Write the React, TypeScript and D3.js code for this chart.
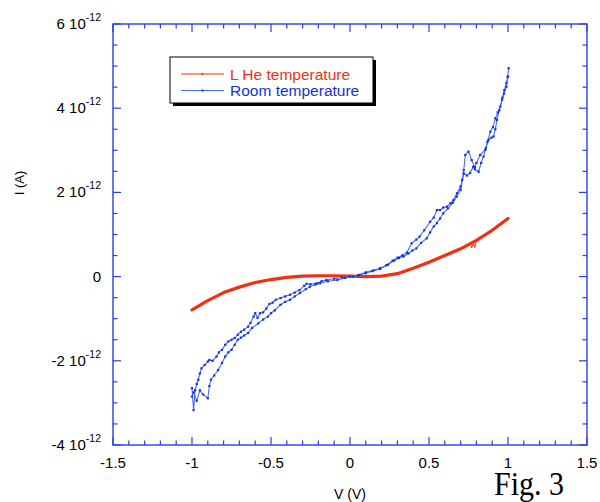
import * as d3 from "d3";

// L He temperature sweep (V, I in 1e-12 A)
const heV = [-1.0, -0.9, -0.8, -0.7, -0.6, -0.5, -0.4, -0.3, -0.2, -0.1, 0.0, 0.1, 0.2, 0.3, 0.4, 0.5, 0.6, 0.7, 0.8, 0.9, 1.0];
const heI = [-0.79, -0.57, -0.38, -0.25, -0.14, -0.07, -0.02, 0.01, 0.02, 0.02, 0.01, 0.0, 0.01, 0.07, 0.2, 0.34, 0.5, 0.66, 0.86, 1.1, 1.38];
const heGlitchV = [0.76, 0.77, 0.78, 0.79, 0.8];
const heGlitchI = [0.78, 0.68, 0.8, 0.69, 0.84];

// room temperature, two sweeps
const roomV1 = [-1.0, -0.99, -0.98, -0.97, -0.96, -0.95, -0.94, -0.92, -0.9, -0.89, -0.87, -0.845, -0.83, -0.81, -0.79, -0.77, -0.75, -0.73, -0.71, -0.69, -0.67, -0.645, -0.63, -0.61, -0.6, -0.585, -0.57, -0.55, -0.53, -0.51, -0.49, -0.47, -0.44, -0.41, -0.38, -0.35, -0.32, -0.29, -0.275, -0.25, -0.21, -0.18, -0.15, -0.1, -0.05, 0.0, 0.05, 0.1, 0.15, 0.19, 0.23, 0.27, 0.3, 0.33, 0.36, 0.39, 0.42, 0.44, 0.47, 0.507, 0.53, 0.55, 0.57, 0.59, 0.613, 0.635, 0.655, 0.677, 0.7, 0.71, 0.72, 0.73, 0.75, 0.77, 0.79, 0.8, 0.824, 0.856, 0.87, 0.888, 0.905, 0.92, 0.935, 0.951, 0.965, 0.977, 0.99, 0.998, 1.004];
const roomI1 = [-2.65, -3.17, -2.7, -2.55, -2.45, -2.3, -2.18, -2.1, -2.02, -1.98, -2.0, -1.9, -1.8, -1.74, -1.62, -1.54, -1.5, -1.46, -1.38, -1.31, -1.26, -1.19, -1.1, -0.95, -0.87, -0.98, -0.87, -0.85, -0.76, -0.65, -0.62, -0.55, -0.51, -0.47, -0.43, -0.38, -0.32, -0.22, -0.17, -0.18, -0.16, -0.11, -0.08, -0.05, -0.02, 0.0, 0.03, 0.1, 0.15, 0.2, 0.27, 0.38, 0.45, 0.5, 0.57, 0.79, 0.88, 0.95, 1.1, 1.3, 1.4, 1.58, 1.58, 1.64, 1.66, 1.74, 1.82, 1.98, 2.14, 2.3, 2.53, 2.89, 2.97, 2.77, 2.6, 2.7, 2.89, 3.01, 3.2, 3.44, 3.55, 3.76, 3.9, 4.04, 4.25, 4.43, 4.6, 4.75, 4.95];
const roomV2 = [-1.0, -0.99, -0.97, -0.95, -0.93, -0.9, -0.89, -0.88, -0.86, -0.835, -0.81, -0.79, -0.77, -0.75, -0.73, -0.71, -0.69, -0.67, -0.645, -0.62, -0.58, -0.55, -0.52, -0.5, -0.476, -0.44, -0.41, -0.38, -0.35, -0.317, -0.28, -0.254, -0.22, -0.19, -0.14, -0.08, -0.03, 0.02, 0.06, 0.1, 0.14, 0.19, 0.24, 0.28, 0.31, 0.34, 0.37, 0.395, 0.42, 0.45, 0.486, 0.507, 0.53, 0.55, 0.57, 0.59, 0.62, 0.65, 0.675, 0.7, 0.72, 0.74, 0.76, 0.78, 0.79, 0.814, 0.83, 0.845, 0.86, 0.877, 0.895, 0.909, 0.92, 0.93, 0.945, 0.962, 0.975, 0.99, 1.0];
const roomI2 = [-2.85, -2.75, -2.95, -2.7, -2.8, -2.89, -2.6, -2.45, -2.35, -2.22, -2.05, -1.9, -1.8, -1.74, -1.62, -1.5, -1.45, -1.4, -1.34, -1.22, -1.11, -1.02, -0.95, -0.87, -0.8, -0.67, -0.6, -0.55, -0.47, -0.39, -0.3, -0.24, -0.19, -0.16, -0.11, -0.08, -0.03, 0.0, 0.04, 0.08, 0.13, 0.18, 0.28, 0.38, 0.44, 0.48, 0.55, 0.62, 0.67, 0.8, 0.91, 1.05, 1.19, 1.27, 1.38, 1.5, 1.62, 1.75, 1.9, 2.06, 2.45, 2.4, 2.46, 2.61, 2.55, 2.49, 2.7, 2.85, 3.05, 3.25, 3.3, 3.33, 3.5, 3.72, 3.95, 4.2, 4.35, 4.51, 4.75];

const xMajor = [-1.5, -1, -0.5, 0, 0.5, 1, 1.5];
const xTickLabels = ["-1.5", "-1", "-0.5", "0", "0.5", "1", "1.5"];
const yMajor = [-4, -2, 0, 2, 4, 6];
const yTickLabels = ["-4", "-2", "0", "2", "4", "6"];

const BOX = { left: 113, right: 587, top: 24, bottom: 445 };
const AXIS = "#2442e6";
const RED = "#f0300e";
const BLUE_LINE = "#4a6cf0";
const BLUE_DOT = "#1232e0";
const FONT = "Liberation Sans, Arial, sans-serif";

const App = () => {
  const x = d3.scaleLinear().domain([-1.5, 1.5]).range([BOX.left, BOX.right]);
  const y = d3.scaleLinear().domain([-4, 6]).range([BOX.bottom, BOX.top]);

  const line = d3
    .line<[number, number]>()
    .x((d) => x(d[0]))
    .y((d) => y(d[1]));

  const zip = (vs: number[], is: number[]) => vs.map((v, i) => [v, is[i]] as [number, number]);
  const he = zip(heV, heI);
  const heGlitch = zip(heGlitchV, heGlitchI);
  const room1 = zip(roomV1, roomI1);
  const room2 = zip(roomV2, roomI2);

  const xMinor = d3.range(-1.5, 1.5001, 0.1).map((d) => Math.round(d * 10) / 10);
  const yMinor = d3.range(-4, 6.001, 0.5);

  const isMajorX = (v: number) => xMajor.some((m) => Math.abs(m - v) < 1e-6);
  const isMajorY = (v: number) => yMajor.some((m) => Math.abs(m - v) < 1e-6);

  return (
    <svg width={600} height={502} style={{ position: "absolute", left: 0, top: 0, background: "#fff" }}>
      {/* frame */}
      <rect x={BOX.left} y={BOX.top} width={BOX.right - BOX.left} height={BOX.bottom - BOX.top} fill="none" stroke={AXIS} strokeWidth={1.4} />

      {/* x ticks bottom & top */}
      {xMinor.map((v, i) => {
        const len = isMajorX(v) ? 8 : 4.5;
        return (
          <g key={"xt" + i} stroke={AXIS} strokeWidth={1.2}>
            <line x1={x(v)} x2={x(v)} y1={BOX.bottom} y2={BOX.bottom - len} />
            <line x1={x(v)} x2={x(v)} y1={BOX.top} y2={BOX.top + len} />
          </g>
        );
      })}
      {/* y ticks left & right */}
      {yMinor.map((v, i) => {
        const len = isMajorY(v) ? 8 : 4.5;
        return (
          <g key={"yt" + i} stroke={AXIS} strokeWidth={1.2}>
            <line x1={BOX.left} x2={BOX.left + len} y1={y(v)} y2={y(v)} />
            <line x1={BOX.right} x2={BOX.right - len} y1={y(v)} y2={y(v)} />
          </g>
        );
      })}

      {/* x tick labels */}
      {xMajor.map((v, i) => (
        <text key={"xl" + i} x={x(v)} y={468} textAnchor="middle" fontFamily={FONT} fontSize={15} fill="#000">
          {xTickLabels[i]}
        </text>
      ))}
      {/* y tick labels */}
      {yMajor.map((v, i) =>
        v === 0 ? (
          <text key={"yl" + i} x={101} y={y(v) + 5} textAnchor="end" fontFamily={FONT} fontSize={15} fill="#000">
            0
          </text>
        ) : (
          <text key={"yl" + i} x={101} y={y(v) + 5} textAnchor="end" fontFamily={FONT} fontSize={15} fill="#000">
            {yTickLabels[i] + " 10"}
            <tspan fontSize={10.5} dy={-8}>-12</tspan>
          </text>
        )
      )}

      {/* axis titles */}
      <text x={350} y={499} textAnchor="middle" fontFamily={FONT} fontSize={14} fill="#000">
        V (V)
      </text>
      <text transform={`translate(24,183) rotate(-90)`} textAnchor="middle" fontFamily={FONT} fontSize={13} fill="#000">
        I (A)
      </text>

      {/* data */}
      <path d={line(he) ?? ""} fill="none" stroke={RED} strokeWidth={3.2} strokeLinejoin="round" strokeLinecap="round" />
      <path d={line(heGlitch) ?? ""} fill="none" stroke={RED} strokeWidth={1} />

      <path d={line(room1) ?? ""} fill="none" stroke={BLUE_LINE} strokeWidth={1.1} />
      <path d={line(room2) ?? ""} fill="none" stroke={BLUE_LINE} strokeWidth={1.1} />
      {[...room1, ...room2].map((d, i) => (
        <rect key={"p" + i} x={x(d[0]) - 1.1} y={y(d[1]) - 1.1} width={2.2} height={2.2} fill={BLUE_DOT} />
      ))}

      {/* legend */}
      <rect x={173} y={60} width={203} height={46} fill="#000" />
      <rect x={170} y={57} width={203} height={46} fill="#fff" stroke="#000" strokeWidth={1} />
      <line x1={181} x2={224} y1={74} y2={74} stroke={RED} strokeWidth={1} />
      <rect x={201.5} y={73} width={2} height={2} fill={RED} />
      <text x={230} y={80} fontFamily={FONT} fontSize={15.5} fill={RED}>
        L He temperature
      </text>
      <line x1={181} x2={224} y1={90.5} y2={90.5} stroke={BLUE_LINE} strokeWidth={1} />
      <rect x={201.5} y={89.5} width={2} height={2} fill={BLUE_DOT} />
      <text x={230} y={96} fontFamily={FONT} fontSize={15.5} fill={BLUE_DOT}>
        Room temperature
      </text>

      <text
        x={494}
        y={495}
        transform="translate(0,495) scale(1,1.1) translate(0,-495)"
        fontFamily="Liberation Serif, Times New Roman, serif"
        fontSize={30}
        fill="#000"
      >
        Fig. 3
      </text>
    </svg>
  );
};

export default App;
